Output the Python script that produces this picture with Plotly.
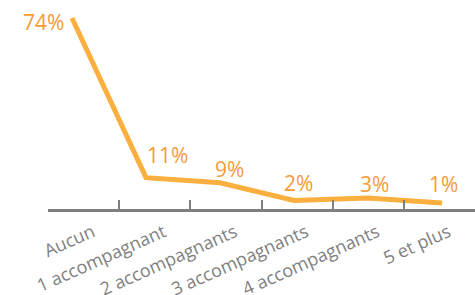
import plotly.graph_objects as go

categories = ["Aucun", "1 accompagnant", "2 accompagnants", "3 accompagnants",
              "4 accompagnants", "5 et plus"]
values = [74, 11, 9, 2, 3, 1]
value_labels = ["74%", "11%", "9%", "2%", "3%", "1%"]

# label placement offsets (pixels) – styling only
label_xshift = [-6, 22, 10, 5, 7, 2]
label_yshift = [-4, 23, 14, 17, 14, 19]
label_xanchor = ["right", "center", "center", "center", "center", "center"]

LINE = "#FAAF3E"
TEXT = "#F59B3A"
GREY = "#7F7F7F"

idx = list(range(len(categories)))

fig = go.Figure()
# invisible trace to set up category axis
fig.add_trace(go.Scatter(x=categories, y=[None]*len(categories), xaxis="x", yaxis="y",
                         mode="lines", showlegend=False, hoverinfo="skip"))
fig.add_trace(go.Scatter(x=idx, y=values, xaxis="x2", yaxis="y", mode="lines",
                         line=dict(color=LINE, width=5), showlegend=False))

for i, (v, t) in enumerate(zip(values, value_labels)):
    fig.add_annotation(x=i, y=v, xref="x2", yref="y", text=t, showarrow=False,
                       xanchor=label_xanchor[i], yanchor="middle",
                       xshift=label_xshift[i], yshift=label_yshift[i],
                       font=dict(family="Open Sans", size=21, color=TEXT))

fig.update_layout(
    width=475, height=295,
    margin=dict(l=48, r=0, t=10, b=86, autoexpand=False),
    paper_bgcolor="white", plot_bgcolor="white",
    font=dict(family="Open Sans", color=GREY),
    xaxis=dict(type="category", range=[-0.5, 5.5], tickson="boundaries",
               ticks="inside", ticklen=9, tickwidth=2, tickcolor=GREY,
               showline=True, linecolor=GREY, linewidth=3, automargin=False,
               showgrid=False, zeroline=False, tickangle=-24,
               ticklabelshift=9, ticklabelstandoff=3,
               tickfont=dict(family="Open Sans", size=18, color=GREY)),
    xaxis2=dict(overlaying="x", range=[-0.324, 5.446], visible=False),
    yaxis=dict(range=[-1.38, 77.15], visible=False, showgrid=False, zeroline=False,
               automargin=False),
)

fig.write_html(
    "out.html",
    config={"displayModeBar": False},
    post_script="document.body.style.margin='0';"
                "document.documentElement.style.overflow='hidden';"
                "document.body.style.overflow='hidden';",
)
